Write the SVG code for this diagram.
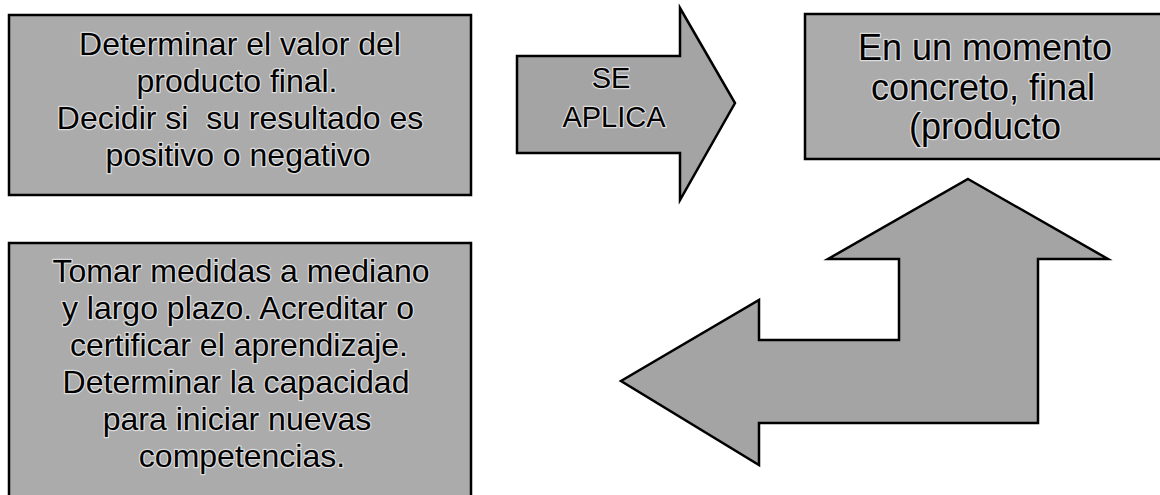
<svg xmlns="http://www.w3.org/2000/svg" width="1160" height="495" viewBox="0 0 1160 495">
<style>
.box{fill:#ababab;stroke:#000;stroke-width:2.5}
.shape{fill:#a4a4a4;stroke:#000;stroke-width:2.5;stroke-linejoin:miter}
.t{font-family:"Liberation Sans",Arial,sans-serif;font-size:32px;fill:#000;text-anchor:middle;stroke:#dcdcdc;stroke-width:2.5px;paint-order:stroke;stroke-linejoin:round}
.s{font-size:29px}
.m{font-size:36px}
</style>
<rect width="1160" height="495" fill="#fff"/>
<g id="connectors">
<polygon id="arrow-se-aplica" class="shape" points="517,56 680,56 680,8 735,103 680,200 680,153 517,153"/>
<polygon id="arrow-bent" class="shape" points="968,179 1108,259 1038,259 1038,423 759,423 759,465 621,381 759,300 759,340 899,340 899,259 828,259"/>
<text class="t s" x="611" y="88">SE</text>
<text class="t s" x="614" y="127">APLICA</text>
</g>
<g id="node-valor">
<rect class="box" x="9" y="15" width="462" height="180"/>
<text class="t" x="240" y="55">Determinar el valor del</text>
<text class="t" x="237" y="92">producto final.</text>
<text class="t" x="240" y="129" xml:space="preserve">Decidir si  su resultado es</text>
<text class="t" x="238" y="166">positivo o negativo</text>
</g>
<g id="node-momento">
<rect class="box" x="805" y="14" width="358" height="145"/>
<text class="t m" x="985" y="60">En un momento</text>
<text class="t m" x="983" y="100">concreto, final</text>
<text class="t m" x="985" y="139">(producto</text>
</g>
<g id="node-medidas">
<rect class="box" x="9" y="243" width="462" height="255"/>
<text class="t" x="241" y="282">Tomar medidas a mediano</text>
<text class="t" x="238" y="319">y largo plazo. Acreditar o</text>
<text class="t" x="239" y="356">certificar el aprendizaje.</text>
<text class="t" x="236" y="393">Determinar la capacidad</text>
<text class="t" x="237" y="430">para iniciar nuevas</text>
<text class="t" x="242" y="467">competencias.</text>
</g>
</svg>
